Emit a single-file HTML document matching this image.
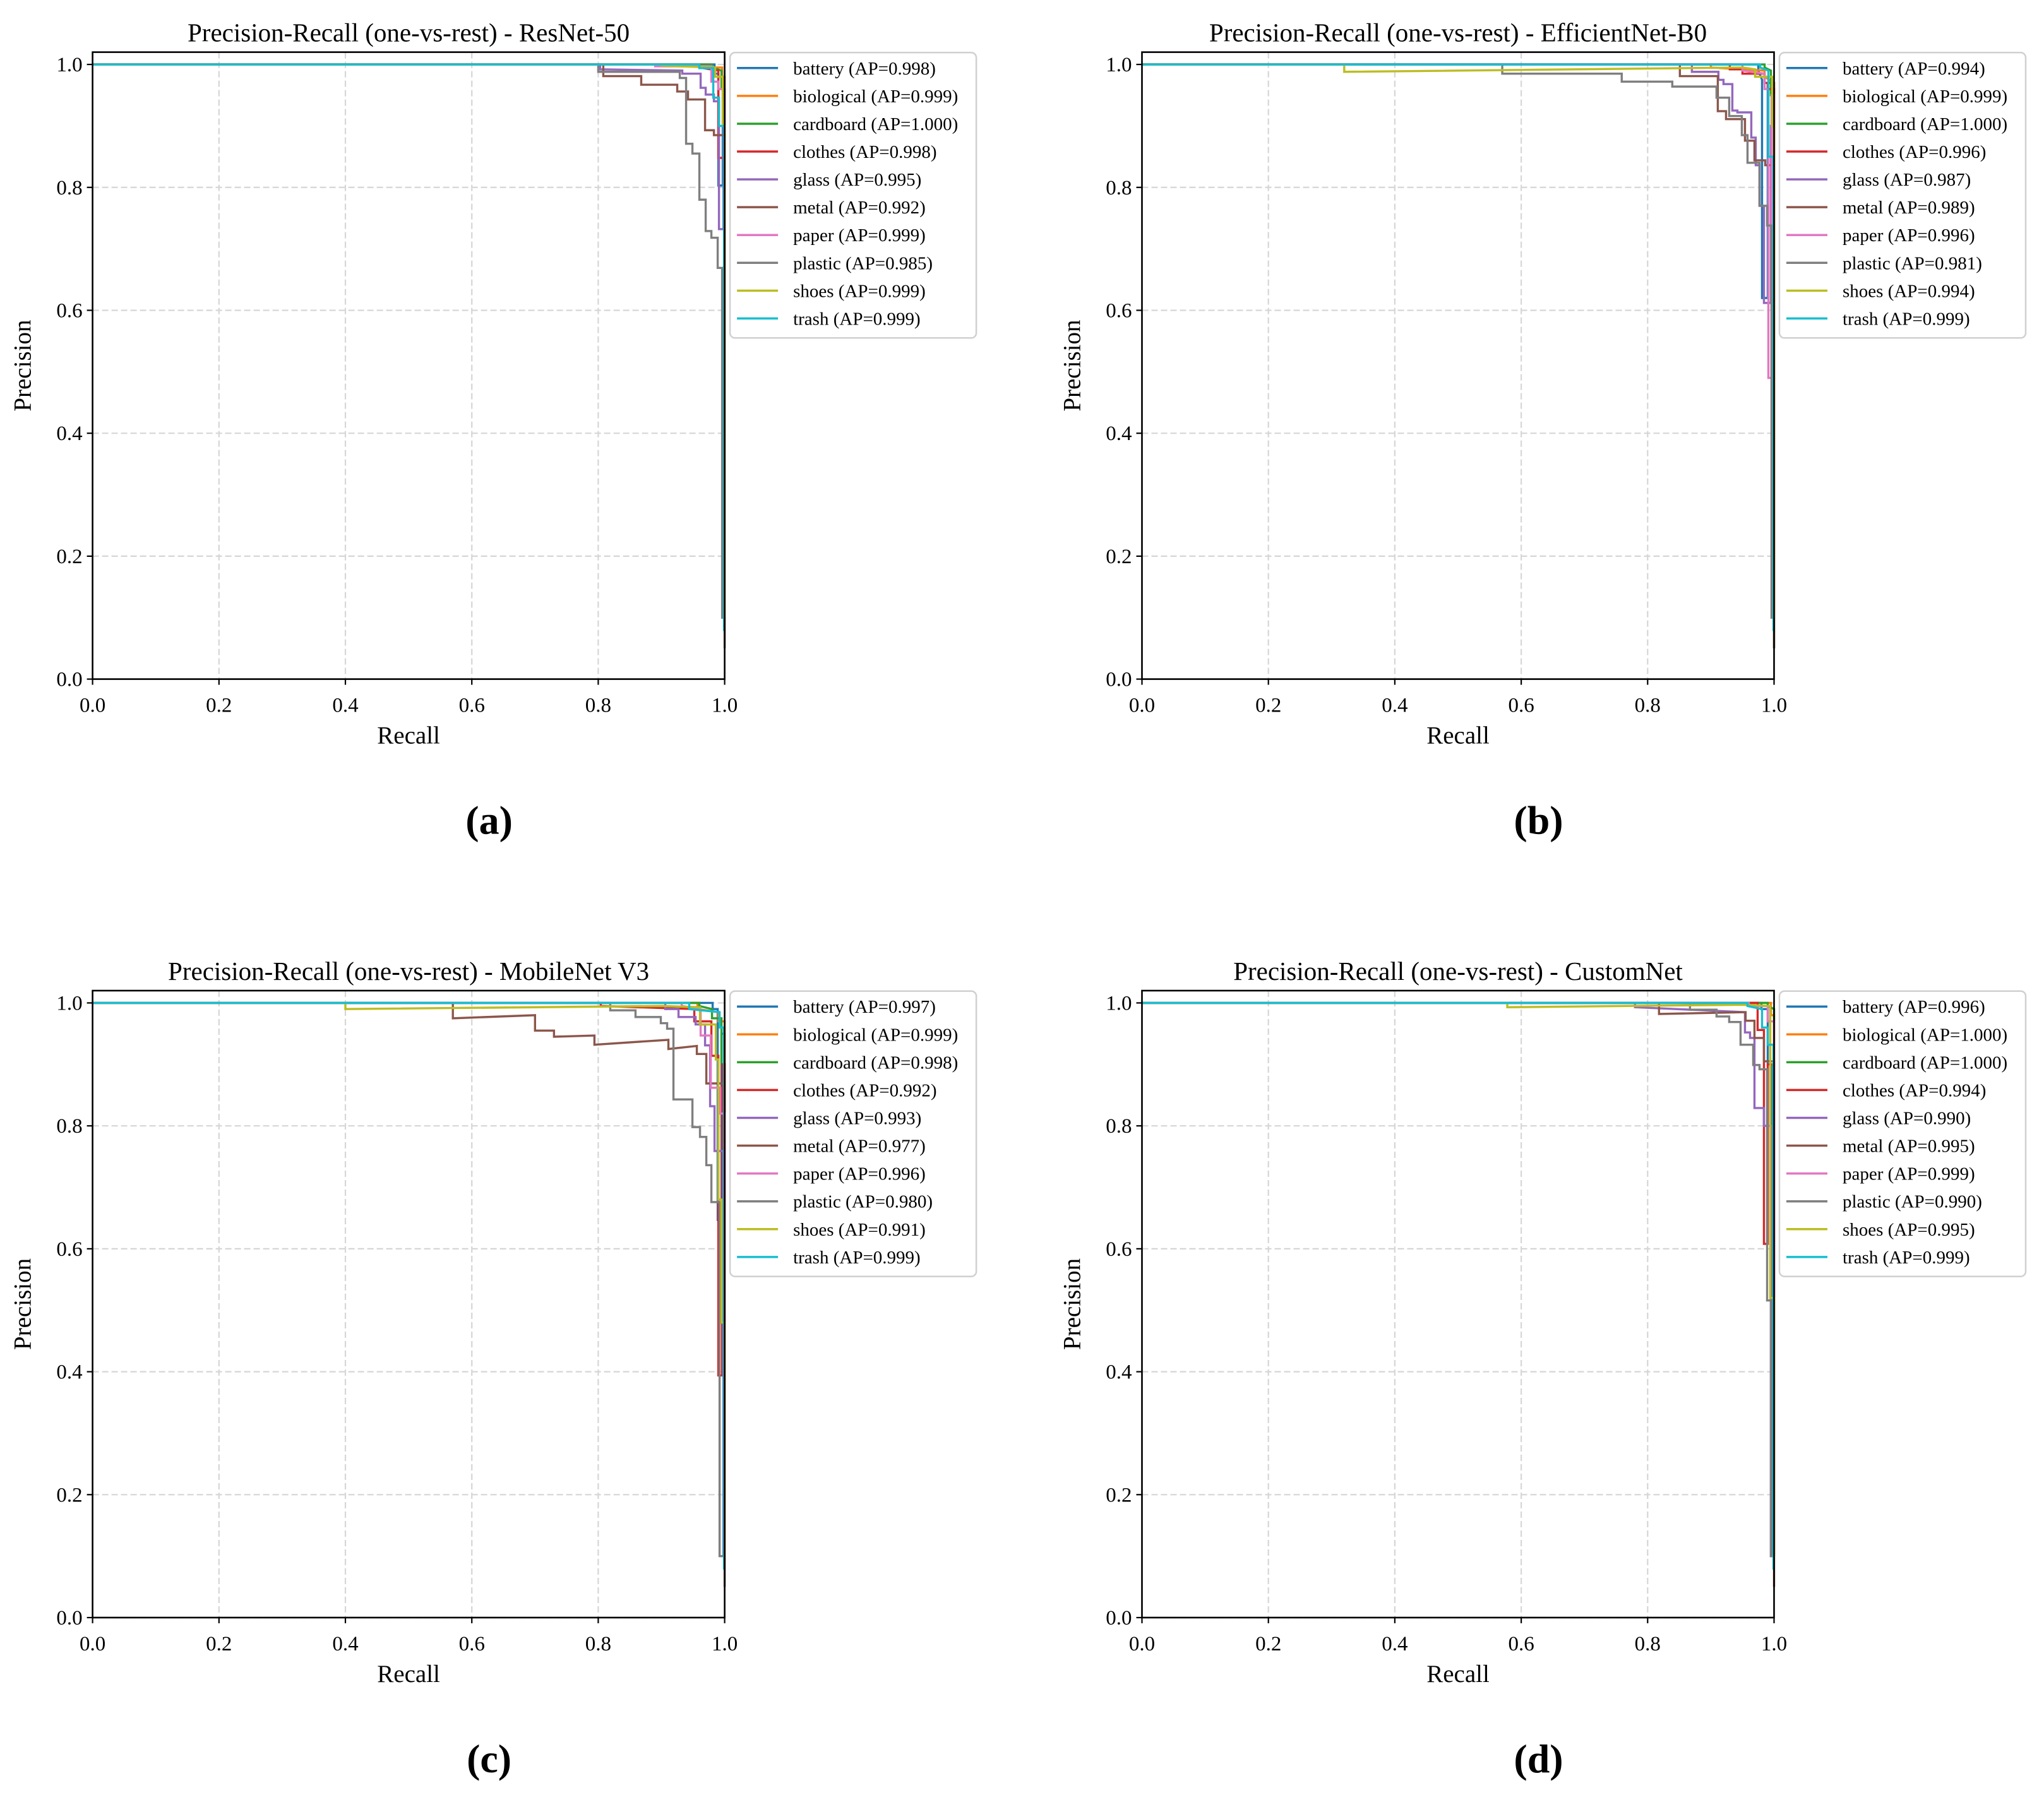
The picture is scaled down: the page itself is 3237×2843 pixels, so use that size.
<!DOCTYPE html>
<html><head><meta charset="utf-8"><title>PR curves</title>
<style>
html,body{margin:0;padding:0;background:#fff;}
svg{display:block;}
text{font-family:"Liberation Serif","DejaVu Serif",serif;fill:#000;}
</style></head>
<body>
<svg id="fig" xmlns="http://www.w3.org/2000/svg" width="3237" height="2843" viewBox="0 0 3237 2843">
<rect width="3237" height="2843" fill="#fff"/>
</svg>
<script>
const classNames = ["battery","biological","cardboard","clothes","glass","metal","paper","plastic","shoes","trash"];
const classColors = ["#1f77b4","#ff7f0e","#2ca02c","#d62728","#9467bd","#8c564b","#e377c2","#7f7f7f","#bcbd22","#17becf"];
const tickValues = [0.0,0.2,0.4,0.6,0.8,1.0];
const tickLabels = ["0.0","0.2","0.4","0.6","0.8","1.0"];
const modelNames = ["ResNet-50","EfficientNet-B0","MobileNet V3","CustomNet"];
const panelLetters = ["(a)","(b)","(c)","(d)"];

const apResNet = [0.998,0.999,1.000,0.998,0.995,0.992,0.999,0.985,0.999,0.999];
const apEffNet = [0.994,0.999,1.000,0.996,0.987,0.989,0.996,0.981,0.994,0.999];
const apMobNet = [0.997,0.999,0.998,0.992,0.993,0.977,0.996,0.980,0.991,0.999];
const apCusNet = [0.996,1.000,1.000,0.994,0.990,0.995,0.999,0.990,0.995,0.999];

const prResNet = [
 [[0,1],[0.984,1],[0.984,0.985],[0.99,0.985],[0.99,0.803],[0.997,0.803],[0.997,0.96],[1,0.96],[1,0.1]],
 [[0,1],[0.975,1],[0.975,0.995],[0.996,0.995],[0.996,0.98],[1,0.98],[1,0.1]],
 [[0,1],[0.98,1],[0.98,0.995],[0.995,0.99],[0.995,0.96],[1,0.96],[1,0.1]],
 [[0,1],[0.96,1],[0.96,0.995],[0.99,0.99],[0.99,0.848],[1,0.848],[1,0.1]],
 [[0,1],[0.803,1],[0.803,0.992],[0.933,0.99],[0.933,0.985],[0.962,0.985],[0.962,0.962],[0.97,0.962],[0.97,0.951],[0.983,0.951],[0.983,0.94],[0.991,0.94],[0.991,0.732],[0.998,0.732],[0.998,0.95],[1,0.95],[1,0.1]],
 [[0,1],[0.808,1],[0.808,0.981],[0.868,0.981],[0.868,0.967],[0.925,0.967],[0.925,0.956],[0.942,0.956],[0.942,0.943],[0.969,0.943],[0.969,0.893],[0.983,0.893],[0.983,0.885],[1,0.885],[1,0.05]],
 [[0,1],[0.89,1],[0.89,0.997],[0.979,0.997],[0.979,0.972],[0.99,0.972],[0.99,0.96],[1,0.96],[1,0.1]],
 [[0,1],[0.8,1],[0.8,0.988],[0.929,0.988],[0.929,0.978],[0.939,0.978],[0.939,0.871],[0.949,0.871],[0.949,0.855],[0.96,0.855],[0.96,0.78],[0.97,0.78],[0.97,0.729],[0.979,0.729],[0.979,0.718],[0.989,0.718],[0.989,0.669],[0.996,0.669],[0.996,0.1],[1,0.1]],
 [[0,1],[0.9,1],[0.9,0.998],[0.985,0.995],[0.985,0.98],[0.997,0.98],[0.997,0.9],[1,0.9],[1,0.1]],
 [[0,1],[0.96,1],[0.96,0.994],[0.982,0.994],[0.982,0.946],[0.991,0.946],[0.991,0.9],[0.999,0.9],[0.999,0.08],[1,0.08]]
];
const prEffNet = [
 [[0,1],[0.975,1],[0.975,0.99],[0.981,0.975],[0.981,0.62],[0.99,0.62],[0.99,0.97],[1,0.97],[1,0.1]],
 [[0,1],[0.9,1],[0.9,0.995],[0.985,0.99],[0.985,0.98],[1,0.97],[1,0.1]],
 [[0,1],[0.985,1],[0.985,0.995],[0.995,0.99],[0.995,0.95],[1,0.95],[1,0.05]],
 [[0,1],[0.93,1],[0.93,0.992],[0.95,0.992],[0.95,0.985],[0.985,0.985],[0.985,0.97],[0.99,0.97],[0.99,0.96],[1,0.96],[1,0.1]],
 [[0,1],[0.87,1],[0.87,0.988],[0.912,0.988],[0.912,0.975],[0.92,0.975],[0.92,0.968],[0.934,0.968],[0.934,0.925],[0.942,0.925],[0.942,0.922],[0.964,0.922],[0.964,0.881],[0.971,0.881],[0.971,0.836],[0.977,0.836],[0.977,0.77],[0.984,0.77],[0.984,0.612],[0.995,0.612],[0.995,0.9],[1,0.9],[1,0.1]],
 [[0,1],[0.851,1],[0.851,0.981],[0.911,0.981],[0.911,0.924],[0.924,0.924],[0.924,0.911],[0.954,0.911],[0.954,0.876],[0.969,0.876],[0.969,0.844],[0.986,0.844],[0.986,0.836],[1,0.836],[1,0.05]],
 [[0,1],[0.95,1],[0.95,0.99],[0.985,0.985],[0.985,0.96],[0.991,0.96],[0.991,0.49],[0.996,0.49],[0.996,0.95],[1,0.95],[1,0.1]],
 [[0,1],[0.57,1],[0.57,0.985],[0.759,0.985],[0.759,0.972],[0.839,0.972],[0.839,0.964],[0.909,0.964],[0.909,0.946],[0.929,0.946],[0.929,0.916],[0.949,0.916],[0.949,0.885],[0.958,0.885],[0.958,0.84],[0.977,0.84],[0.977,0.77],[0.989,0.77],[0.989,0.738],[0.996,0.738],[0.996,0.1],[1,0.1]],
 [[0,1],[0.32,1],[0.32,0.988],[0.95,0.995],[0.97,0.992],[0.97,0.98],[0.997,0.98],[0.997,0.9],[1,0.9],[1,0.1]],
 [[0,1],[0.978,1],[0.978,0.995],[0.991,0.99],[0.991,0.85],[0.999,0.85],[0.999,0.08],[1,0.08]]
];
const prMobNet = [
 [[0,1],[0.981,1],[0.981,0.99],[0.989,0.99],[0.989,0.647],[0.995,0.647],[0.995,0.95],[1,0.95],[1,0.1]],
 [[0,1],[0.957,1],[0.957,0.99],[0.99,0.985],[0.99,0.97],[1,0.97],[1,0.1]],
 [[0,1],[0.96,1],[0.96,0.995],[0.98,0.99],[0.98,0.975],[0.995,0.975],[0.995,0.9],[1,0.9],[1,0.1]],
 [[0,1],[0.804,1],[0.804,0.995],[0.952,0.99],[0.952,0.97],[0.979,0.97],[0.979,0.914],[0.99,0.914],[0.99,0.394],[0.996,0.394],[0.996,0.9],[1,0.9],[1,0.1]],
 [[0,1],[0.906,1],[0.906,0.99],[0.927,0.99],[0.927,0.977],[0.954,0.977],[0.954,0.965],[0.969,0.965],[0.969,0.931],[0.977,0.931],[0.977,0.832],[0.984,0.832],[0.984,0.759],[0.998,0.759],[0.998,0.1],[1,0.1]],
 [[0,1],[0.57,1],[0.57,0.975],[0.70,0.98],[0.70,0.955],[0.73,0.955],[0.73,0.945],[0.794,0.947],[0.794,0.932],[0.911,0.94],[0.911,0.925],[0.956,0.93],[0.956,0.917],[0.971,0.917],[0.971,0.869],[1,0.869],[1,0.05]],
 [[0,1],[0.932,1],[0.932,0.995],[0.962,0.99],[0.962,0.947],[0.978,0.947],[0.978,0.862],[0.993,0.862],[0.993,0.82],[1,0.82],[1,0.1]],
 [[0,1],[0.819,1],[0.819,0.988],[0.859,0.988],[0.859,0.977],[0.899,0.977],[0.899,0.967],[0.909,0.967],[0.909,0.958],[0.919,0.958],[0.919,0.843],[0.949,0.843],[0.949,0.798],[0.961,0.798],[0.961,0.782],[0.971,0.782],[0.971,0.736],[0.979,0.736],[0.979,0.676],[0.992,0.676],[0.992,0.1],[1,0.1]],
 [[0,1],[0.4,1],[0.4,0.99],[0.9,0.995],[0.961,0.993],[0.961,0.965],[0.986,0.965],[0.986,0.908],[0.99,0.908],[0.99,0.68],[0.995,0.68],[0.995,0.48],[1,0.48],[1,0.1]],
 [[0,1],[0.944,1],[0.944,0.99],[0.992,0.985],[0.992,0.96],[0.999,0.96],[0.999,0.08],[1,0.08]]
];
const prCusNet = [
 [[0,1],[0.98,1],[0.98,0.99],[0.99,0.99],[0.99,0.9],[0.997,0.9],[0.997,0.1],[1,0.1]],
 [[0,1],[0.995,1],[0.995,0.98],[1,0.98],[1,0.1]],
 [[0,1],[0.99,1],[0.99,0.995],[1,0.99],[1,0.1]],
 [[0,1],[0.974,1],[0.974,0.956],[0.984,0.956],[0.984,0.608],[0.99,0.608],[0.99,0.9],[1,0.9],[1,0.1]],
 [[0,1],[0.78,1],[0.78,0.993],[0.954,0.985],[0.954,0.952],[0.962,0.952],[0.962,0.943],[0.969,0.943],[0.969,0.829],[0.984,0.829],[0.984,0.8],[0.995,0.8],[0.995,0.1],[1,0.1]],
 [[0,1],[0.818,1],[0.818,0.982],[0.955,0.985],[0.955,0.971],[0.969,0.971],[0.969,0.943],[0.984,0.943],[0.984,0.905],[1,0.905],[1,0.05]],
 [[0,1],[0.96,1],[0.96,0.995],[0.99,0.995],[0.99,0.97],[1,0.97],[1,0.1]],
 [[0,1],[0.867,1],[0.867,0.989],[0.909,0.989],[0.909,0.978],[0.929,0.978],[0.929,0.969],[0.947,0.969],[0.947,0.932],[0.967,0.932],[0.967,0.899],[0.977,0.899],[0.977,0.892],[0.989,0.892],[0.989,0.516],[0.995,0.516],[0.995,0.1],[1,0.1]],
 [[0,1],[0.578,1],[0.578,0.993],[0.95,0.997],[0.994,0.995],[0.994,0.52],[1,0.52],[1,0.1]],
 [[0,1],[0.958,1],[0.958,0.995],[0.981,0.99],[0.981,0.96],[0.99,0.96],[0.99,0.932],[0.999,0.932],[0.999,0.08],[1,0.08]]
];

const allAP = [apResNet, apEffNet, apMobNet, apCusNet];
const allPR = [prResNet, prEffNet, prMobNet, prCusNet];

const NS = "http://www.w3.org/2000/svg";
const svg = document.getElementById("fig");
function mk(tag, attrs, parent){
  const e = document.createElementNS(NS, tag);
  for (const k in attrs) e.setAttribute(k, attrs[k]);
  (parent||svg).appendChild(e);
  return e;
}
const panelLefts = [146.6, 1808.5, 146.6, 1808.5];
const panelTops = [82.6, 82.6, 1569, 1569];
const W = 1001, H = 993, YMAX = 1.02;

for (let pi = 0; pi < 4; pi++) {
  const L = panelLefts[pi], T = panelTops[pi], B = T + H, R = L + W;
  const xs = v => L + v * W;
  const ys = v => B - v / YMAX * H;
  const g = mk("g", {});
  
  

  tickValues.forEach(t => {
    const gx = mk("line", {x1:xs(t), x2:xs(t), y1:T, y2:B, stroke:"#d6d6d6", "stroke-width":2.2, "stroke-dasharray":"10,5"}, g);
    
    
    const gy = mk("line", {x1:L, x2:R, y1:ys(t), y2:ys(t), stroke:"#d6d6d6", "stroke-width":2.2, "stroke-dasharray":"10,5"}, g);
    
    
  });

  const clipId = "clip" + pi;
  const cp = mk("clipPath", {id: clipId}, g);
  mk("rect", {x:L, y:T, width:W + 3, height:H}, cp);
  const series = allPR[pi];
  series.forEach((pts, ci) => {
    const d = pts.map((p, i) => (i ? "L" : "M") + xs(p[0]).toFixed(2) + " " + ys(p[1]).toFixed(2)).join(" ");
    const path = mk("path", {d: d, fill:"none", stroke: classColors[ci], "stroke-width":3.4, "stroke-linejoin":"miter", "clip-path":"url(#" + clipId + ")"}, g);
    
    
  });

  const frame = mk("rect", {x:L, y:T, width:W, height:H, fill:"none", stroke:"#000", "stroke-width":2.6}, g);
  
  

  tickValues.forEach((t, i) => {
    mk("line", {x1:xs(t), x2:xs(t), y1:B, y2:B + 9, stroke:"#000", "stroke-width":2.2}, g);
    const tx = mk("text", {x:xs(t), y:B + 52, "font-size":33, "text-anchor":"middle"}, g);
    tx.textContent = tickLabels[i];
    
    
    mk("line", {x1:L - 9, x2:L, y1:ys(t), y2:ys(t), stroke:"#000", "stroke-width":2.2}, g);
    const ty = mk("text", {x:L - 16, y:ys(t) + 11, "font-size":33, "text-anchor":"end"}, g);
    ty.textContent = tickLabels[i];
    
    
  });

  const xl = mk("text", {x:L + W / 2, y:B + 102, "font-size":39, "text-anchor":"middle"}, g);
  xl.textContent = "Recall";
  
  
  const yl = mk("text", {x:0, y:0, "font-size":39, "text-anchor":"middle", transform:"translate(" + (L - 98) + "," + (T + H / 2) + ") rotate(-90)"}, g);
  yl.textContent = "Precision";
  
  

  const title = mk("text", {x:L + W / 2, y:T - 17, "font-size":41, "text-anchor":"middle"}, g);
  title.textContent = "Precision-Recall (one-vs-rest) - " + modelNames[pi];
  
  

  const lab = mk("text", {x:L + 628, y:B + 245, "font-size":64, "font-weight":"bold", "text-anchor":"middle"}, g);
  lab.textContent = panelLetters[pi];
  
  

  const lg = mk("g", {}, g);
  
  
  const LX = R + 8.5, LY = T + 0.7;
  mk("rect", {x:LX, y:LY, width:390, height:452, rx:8, fill:"#fff", stroke:"#d0d0d0", "stroke-width":2.5}, lg);
  classNames.forEach((nm, ci) => {
    const y = LY + 24.5 + ci * 44.07;
    const h = mk("line", {x1:LX + 11, x2:LX + 76, y1:y, y2:y, stroke:classColors[ci], "stroke-width":3.5}, lg);
    
    
    const t = mk("text", {x:LX + 100, y:y + 10, "font-size":29}, lg);
    t.textContent = nm + " (AP=" + allAP[pi][ci].toFixed(3) + ")";
    
    
  });
}
</script>
</body></html>
